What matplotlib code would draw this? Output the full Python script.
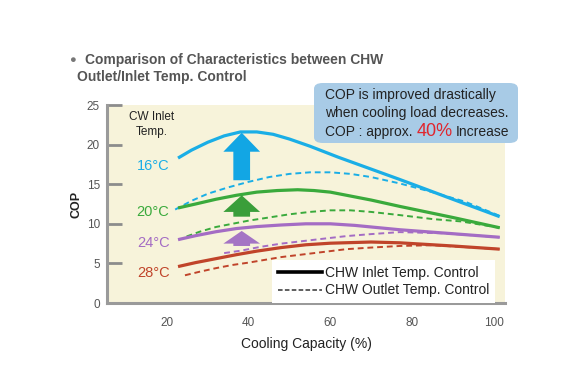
import matplotlib
matplotlib.use("Agg")
import matplotlib.pyplot as plt
from matplotlib.lines import Line2D
from matplotlib.patches import FancyBboxPatch

plt.rcParams['font.family'] = ['Liberation Sans', 'DejaVu Sans']

# COP curves: (cooling capacity %, COP)
cw16_inlet_x = [22.7, 26, 30, 34, 38, 42, 46, 50, 55, 62, 77, 90, 101.5]
cw16_inlet_y = [18.3, 19.3, 20.3, 21.1, 21.6, 21.6, 21.3, 20.7, 19.8, 18.4, 15.6, 13.1, 10.9]
cw16_outlet_x = [22, 26, 30, 35, 40, 45, 50, 55, 60, 65, 70, 77, 85, 93, 101.5]
cw16_outlet_y = [11.8, 12.9, 13.8, 14.6, 15.3, 15.9, 16.3, 16.5, 16.5, 16.3, 15.9, 15.1, 14.0, 12.8, 11.0]

cw20_inlet_x = [22.7, 27, 32, 37, 42, 47, 52, 56, 60, 65, 70, 77, 90, 101.5]
cw20_inlet_y = [12.0, 12.5, 13.1, 13.6, 14.0, 14.2, 14.3, 14.2, 14.0, 13.5, 13.0, 12.2, 10.8, 9.5]
cw20_outlet_x = [24.8, 28, 32, 36, 40, 45, 50, 55, 60, 65, 70, 77, 85, 92, 101.5]
cw20_outlet_y = [8.4, 9.0, 9.6, 10.0, 10.4, 10.8, 11.2, 11.5, 11.7, 11.7, 11.5, 11.1, 10.6, 10.3, 9.5]

cw24_inlet_x = [22.7, 27, 32, 37, 42, 48, 54, 60, 66, 72, 77, 90, 101.5]
cw24_inlet_y = [8.0, 8.5, 9.0, 9.4, 9.65, 9.85, 10.0, 10.0, 9.8, 9.5, 9.25, 8.75, 8.3]
cw24_outlet_x = [34, 38, 43, 48, 53, 58, 64, 70, 77, 88, 101.5]
cw24_outlet_y = [6.3, 6.6, 7.1, 7.5, 7.8, 8.1, 8.45, 8.7, 8.95, 8.8, 8.3]

cw28_inlet_x = [22.7, 27, 32, 37, 42, 48, 54, 60, 70, 77, 90, 101.5]
cw28_inlet_y = [4.6, 5.1, 5.6, 6.1, 6.55, 7.0, 7.35, 7.55, 7.7, 7.6, 7.2, 6.8]
cw28_outlet_x = [24.4, 28, 32, 36, 40, 44, 48, 56, 64, 70, 77, 85, 101.5]
cw28_outlet_y = [3.5, 3.95, 4.4, 4.8, 5.1, 5.45, 5.8, 6.3, 6.8, 7.0, 7.2, 7.3, 6.8]

temp_labels = ['16°C', '20°C', '24°C', '28°C']
temp_label_y = [17.3, 11.5, 7.6, 3.8]

# improvement arrows: centre x, shaft bottom, head base, tip
arrow_x = [38.3, 38.3, 38.3]
arrow_bottom = [15.5, 10.9, 7.2]
arrow_headbase = [19.1, 11.5, 7.5]
arrow_tip = [21.5, 13.6, 9.1]

colors = ['#1aaee6', '#3aaa3c', '#a46cc4', '#c0442a']
arrow_colors = ['#12a6e4', '#3a9e3a', '#a474c4']

fig = plt.figure(figsize=(5.8, 3.86), dpi=100)
ax = fig.add_axes([107/580, 83/386, 398/580, 198/386])
ax.set_facecolor('#f7f3da')

curves = [(cw16_inlet_x, cw16_inlet_y, cw16_outlet_x, cw16_outlet_y),
          (cw20_inlet_x, cw20_inlet_y, cw20_outlet_x, cw20_outlet_y),
          (cw24_inlet_x, cw24_inlet_y, cw24_outlet_x, cw24_outlet_y),
          (cw28_inlet_x, cw28_inlet_y, cw28_outlet_x, cw28_outlet_y)]

for (xi, yi, xo, yo), c in zip(curves, colors):
    ax.plot(xi, yi, color=c, lw=2.3, solid_capstyle='butt', solid_joinstyle='round', zorder=3)
    ax.plot(xo, yo, color=c, lw=1.4, dashes=(3, 2), zorder=3)

# arrows
for x, b, hb, t, c in zip(arrow_x, arrow_bottom, arrow_headbase, arrow_tip, arrow_colors):
    sw = 2.05
    hw = 4.5
    px = [x - sw, x + sw, x + sw, x + hw, x, x - hw, x - sw]
    py = [b, b, hb, hb, t, hb, hb]
    ax.fill(px, py, color=c, lw=0, zorder=4)

for lab, y, c in zip(temp_labels, temp_label_y, colors):
    ax.text(20.6, y, lab, color=c, fontsize=10.5, ha='right', va='center')

ax.text(16.3, 22.5, 'CW Inlet\nTemp.', fontsize=8.5, color='#222222',
        ha='center', va='center', linespacing=1.35)

ax.set_xlim(5.3, 102.8)
ax.set_ylim(0, 25)
ax.set_xticks([20, 40, 60, 80, 100])
ax.set_yticks([0, 5, 10, 15, 20, 25])
ax.tick_params(axis='y', direction='in', length=11, width=2, color='#8c8c8c',
               labelsize=8.5, labelcolor='#555555', pad=5)
ax.tick_params(axis='x', length=0, labelsize=8.5, labelcolor='#555555', pad=10)
for s in ['top', 'right']:
    ax.spines[s].set_visible(False)
for s in ['left', 'bottom']:
    ax.spines[s].set_color('#9a9a9a')
    ax.spines[s].set_linewidth(2.2)

ax.set_xlabel('Cooling Capacity (%)', fontsize=10, color='#222222', labelpad=6)
ax.set_ylabel('COP', fontsize=9, color='#222222', fontweight='bold', labelpad=3)

handles = [Line2D([], [], color='black', lw=2.6),
           Line2D([], [], color='#333333', lw=1.1, dashes=(3, 1.5))]
leg = ax.legend(handles, ['CHW Inlet Temp. Control', 'CHW Outlet Temp. Control'],
                loc='lower right', bbox_to_anchor=(0.975, 0.0), fontsize=10,
                handlelength=3.2, handletextpad=0.2, labelspacing=0.25,
                borderpad=0.4, borderaxespad=0, fancybox=False, framealpha=1)
leg.get_frame().set_edgecolor('none')
leg.get_frame().set_facecolor('white')
for t in leg.get_texts():
    t.set_color('#222222')

# title
fig.text(69/580, 1 - 60/386, '●', fontsize=8, color='#777777', va='center')
fig.text(85/580, 1 - 60/386, 'Comparison of Characteristics between CHW',
         fontsize=10, fontweight='bold', color='#555555', va='center')
fig.text(77/580, 1 - 77/386, 'Outlet/Inlet Temp. Control',
         fontsize=10, fontweight='bold', color='#555555', va='center')

# info box
box = FancyBboxPatch((314/580, 1 - 143/386), 204/580, 60/386,
                     boxstyle='round,pad=0,rounding_size=0.015',
                     transform=fig.transFigure, facecolor='#a8cbe6',
                     edgecolor='none', zorder=5)
fig.patches.append(box)
fig.text(325/580, 1 - 95/386, 'COP is improved drastically', fontsize=10,
         color='#222222', va='center', zorder=6)
fig.text(325/580, 1 - 113/386, 'when cooling load decreases.', fontsize=10,
         color='#222222', va='center', zorder=6)
t1 = fig.text(325/580, 1 - 132/386, 'COP : approx. ', fontsize=10,
              color='#222222', va='center', zorder=6)
fig.canvas.draw()
r = fig.canvas.get_renderer()
x1 = t1.get_window_extent(r).x1
t2 = fig.text(x1 / 580, 1 - 131/386, '40%', fontsize=13, color='#e0262e',
              va='center', zorder=6)
x2 = t2.get_window_extent(r).x1
fig.text(x2 / 580 + 3/580, 1 - 132/386, 'Increase', fontsize=10,
         color='#222222', va='center', zorder=6)

fig.savefig('out.png', dpi=100)
